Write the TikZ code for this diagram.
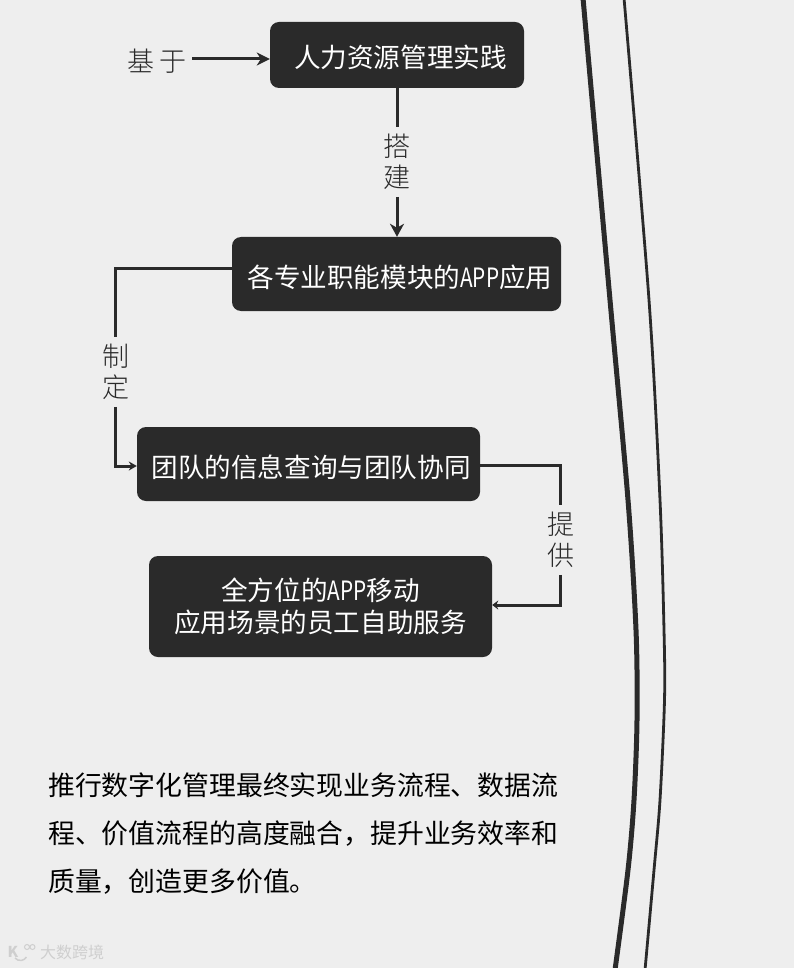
\documentclass[tikz,border=0pt]{standalone}
\usepackage{fontspec}
\usepackage{tikz}
\usetikzlibrary{arrows.meta}
\setmainfont{Noto Sans CJK SC}
\newfontfamily\labelfont{Noto Sans CJK SC Light}
\definecolor{boxdark}{HTML}{2A2A2A}
\definecolor{paper}{HTML}{EEEEEE}
\definecolor{markgray}{HTML}{CFCFCF}
\newcommand{\appword}{\scalebox{0.78}[1]{APP}}
\tikzset{
	box/.style={fill=boxdark, text=white, rounded corners=9pt, align=center, inner sep=0pt, font=\fontsize{26.6}{32}\selectfont},
	boxline/.style={box, text height=30pt, text depth=4pt},
	tag/.style={text=boxdark, align=center, inner sep=0pt, outer ysep=7pt, font=\fontsize{27}{31}\labelfont},
	link/.style={draw=boxdark, line width=3pt},
	curve/.style={draw=boxdark, line cap=butt}
}
\begin{document}
\begin{tikzpicture}[x=1pt, y=-1pt, >={Stealth[length=11pt,width=10pt]}]
	\useasboundingbox[fill=paper] (0,0) rectangle (794,968);
	% the two long curves on the right
	\draw[curve, line width=5pt] plot[smooth] coordinates {(583,-2) (610,300) (628,500) (636,630) (637,720) (634,800) (628,870) (615,970)};
	\draw[curve, line width=2.8pt] plot[smooth] coordinates {(624,-2) (649,300) (660,500) (664,630) (664.5,700) (660,800) (654,870) (645,970)};
	% boxes
	\node[boxline, minimum width=254pt, minimum height=66pt] (practice) at (397,55) {\hspace{7pt}人力资源管理实践};
	\node[boxline, minimum width=329pt, minimum height=74pt] (modules) at (396.5,274) {\hspace{7pt}各专业职能模块的\appword 应用};
	\node[boxline, minimum width=343pt, minimum height=74pt] (team) at (308.5,464) {\hspace{5pt}团队的信息查询与团队协同};
	\node[box, minimum width=343pt, minimum height=101pt] (service) at (320.5,606.5) {全方位的\appword 移动\\应用场景的员工自助服务};
	% labels on the links
	\node[tag, outer ysep=0pt] (based) at (157,61) {基\,于};
	\node[tag] (build) at (397,162) {搭\\建};
	\node[tag] (set) at (116,372) {制\\定};
	\node[tag] (offer) at (561,540) {提\\供};
	% links
	\coordinate (modcorner) at (115,268);
	\coordinate (teamcorner) at (115,466);
	\coordinate (teamright) at (560,465);
	\coordinate (servright) at (560,605);
	\draw[link, -{Stealth[length=13pt,width=13pt,inset=4pt]}] (192,59) -- (practice.west |- 0,59);
	\draw[link] (practice.south -| build) -- (build.north);
	\draw[link, -{Stealth[length=13pt,width=14pt,inset=4pt]}] (build.south) -- (modules.north -| build);
	\draw[link] (modules.west |- modcorner) -- (modcorner) -- (set.north -| modcorner);
	\draw[link, -{Stealth[length=8pt,width=9pt]}] (set.south -| modcorner) -- (teamcorner) -- (team.west |- teamcorner);
	\draw[link] (team.east |- teamright) -- (teamright) -- (offer.north -| teamright);
	\draw[link, -{Stealth[length=6pt,width=9pt]}] (offer.south -| servright) -- (servright) -- (service.east |- servright);
	% paragraph
	\node[anchor=north west, align=left, inner sep=0pt, text=black, font=\fontsize{26.85}{48}\selectfont] (note) at (48,773) {推行数字化管理最终实现业务流程、数据流\\程、价值流程的高度融合，提升业务效率和\\质量，创造更多价值。};
	% watermark
	\node[anchor=west, inner sep=0pt, text=markgray, font=\fontsize{16}{16}\selectfont] (mark) at (40,952) {大数跨境};
	\node[inner sep=0pt, text=markgray, font=\bfseries\fontsize{15}{15}\selectfont] (logo) at (13,952) {K};
	\draw[markgray, line width=1.5pt] (15,958) arc[start angle=220, end angle=330, radius=7pt];
	\draw[markgray, line width=1pt] (27,947) circle[radius=2.5pt] (32.5,947) circle[radius=2.5pt];
\end{tikzpicture}
\end{document}
